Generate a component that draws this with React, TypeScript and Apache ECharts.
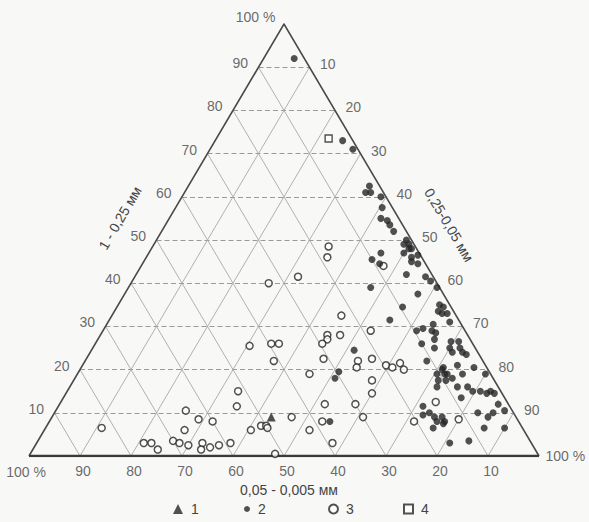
import React, { useEffect, useRef } from "react";
import * as echarts from "echarts";

// Axis titles
const COARSE_TITLE = "1 - 0,25 мм";      // top vertex component (left side scale)
const FINE_TITLE = "0,25-0,05 мм";       // right vertex component (right side scale)
const SILT_TITLE = "0,05 - 0,005 мм";    // left vertex component (bottom scale)

const ticks = [10, 20, 30, 40, 50, 60, 70, 80, 90];
const cornerText = "100 %";
const legendNames = ["1", "2", "3", "4"];

// Each point: [% 1-0,25 mm, % 0,25-0,05 mm]; the 0,05-0,005 mm share is the remainder.
const group1: [number, number][] = [[9, 43]];

const group2: [number, number][] = [
  [92, 6], [73, 25], [71, 28], [62.5, 35.5], [61, 35.5], [61, 36.5], [60, 39], [57.5, 40.5],
  [55, 41.5], [54.5, 43], [53.5, 44], [52, 45.5], [50, 49], [49, 50], [49, 49], [48, 50.5],
  [48, 51], [47, 50], [46, 52], [46.5, 53], [45, 52.5], [44.5, 54], [47, 45.5], [45.5, 44.5],
  [44.5, 46.5], [42, 53], [41.5, 57], [40.5, 58.5], [39, 47.5], [39, 60.5], [37.5, 57.5],
  [34.5, 56], [35, 63], [34.5, 64], [33.5, 63.5], [33, 64.5], [33, 65.5], [31, 67], [31.5, 55],
  [29, 61.5], [29.5, 62.5], [30.5, 64], [29, 64.5], [28.5, 65.5], [27, 66], [25, 67], [26, 64],
  [22, 67], [26.5, 69.5], [26.5, 71], [25, 70], [25, 72], [24, 73], [24, 71], [23.5, 74],
  [21, 73.5], [20.5, 71], [20.5, 77], [19, 80], [19, 70.5], [20, 71], [19, 72], [19, 72.5],
  [17.5, 71.5], [17.5, 73], [18, 74], [19, 75.5], [16, 72], [16, 76], [16, 78], [13.5, 78],
  [15, 79.5], [15, 81], [14.5, 82.5], [15, 83], [14.5, 84], [12, 86], [10.5, 88], [10, 83],
  [9, 85.5], [10, 86], [11.5, 71.5], [9.5, 72.5], [10, 73.5], [9, 75], [8, 76], [9, 76.5],
  [8, 77.5], [6.5, 76], [7.5, 77.5], [6.5, 86], [6.5, 90], [3, 81], [3.5, 84.5], [24.5, 51.5],
  [19.5, 51], [18, 51], [8, 55],
];

const group3: [number, number][] = [
  [48.5, 34.5], [46, 35.5], [41.5, 32], [40, 27], [44, 47.5], [32.5, 45], [29, 52.5], [28, 44.5],
  [28, 47], [27, 45], [26, 44.5], [25.5, 30.5], [26, 34.5], [26, 36], [22, 37], [22.5, 46.5],
  [22, 53.5], [20.5, 54], [22.5, 56], [21, 59.5], [20.5, 61], [21.5, 62], [20, 63.5], [19, 45.5],
  [17.5, 58.5], [14.5, 60], [15, 33.5], [11.5, 35], [12, 52], [12, 58], [9, 61], [8, 32],
  [8.5, 29], [10.5, 25.5], [9, 47], [7, 42], [7, 43], [6.5, 43.5], [6, 40.5], [6, 52], [8, 53.5],
  [3, 58], [3, 38], [3, 32.5], [2, 34.5], [2.5, 36], [1.5, 33], [0.5, 48], [6, 27.5], [3.5, 26.5],
  [3, 28], [2.5, 30], [3, 21], [3, 22.5], [1.5, 24.5], [6.5, 11], [12.5, 73.5], [8, 71.5], [8.5, 80],
];

const group4: [number, number][] = [[73.5, 22]];

// ternary (top, right) -> cartesian data coordinates
const toXY = (top: number, right: number) => [right + top / 2, top];

const FONT = "'Liberation Sans', Arial, sans-serif";
const TEXT_COLOR = "#444";
const INK = "#262626";

export default function App() {
  const ref = useRef<HTMLDivElement>(null);

  useEffect(() => {
    document.body.style.margin = "0";
    const chart = echarts.init(ref.current!, null, { renderer: "svg" });

    const hLines = ticks.map((k) => ({ coords: [toXY(k, 0), toXY(k, 100 - k)] }));
    const rLines = ticks.map((k) => ({ coords: [toXY(0, k), toXY(100 - k, k)] }));
    const lLines = ticks.map((k) => ({ coords: [toXY(0, 100 - k), toXY(100 - k, 0)] }));

    const labelSeries = (data: any[], label: any) => ({
      type: "scatter",
      silent: true,
      symbol: "circle",
      symbolSize: 1,
      itemStyle: { color: "rgba(0,0,0,0)" },
      data,
      z: 6,
      label: {
        show: true,
        formatter: "{b}",
        color: TEXT_COLOR,
        fontSize: 14,
        fontFamily: FONT,
        ...label,
      },
    });

    const legendItem = (name: string, icon: string, left: number, size: number) => ({
      data: [{ name, icon }],
      left,
      top: 502,
      padding: 0,
      itemWidth: size,
      itemHeight: size,
      selectedMode: false,
      textStyle: { color: TEXT_COLOR, fontSize: 14, fontFamily: FONT, padding: [0, 0, 0, 3] },
    });

    const option: any = {
      animation: false,
      backgroundColor: "#f8f8f7",
      grid: { left: 29, right: 50, top: 24, bottom: 66 },
      xAxis: { type: "value", min: 0, max: 100, show: false },
      yAxis: { type: "value", min: 0, max: 100, show: false },
      legend: [
        legendItem(legendNames[0], "triangle", 173, 10),
        legendItem(legendNames[1], "circle", 244, 6),
        legendItem(legendNames[2], "circle", 328, 9),
        legendItem(legendNames[3], "rect", 403, 9),
      ],
      series: [
        {
          type: "lines",
          coordinateSystem: "cartesian2d",
          silent: true,
          data: hLines,
          lineStyle: { color: "#9a9a9a", width: 1, type: [5, 3], opacity: 1 },
          z: 1,
        },
        {
          type: "lines",
          coordinateSystem: "cartesian2d",
          silent: true,
          data: [...rLines, ...lLines],
          lineStyle: { color: "#a8a8a8", width: 0.9, opacity: 1 },
          z: 1,
        },
        {
          type: "lines",
          coordinateSystem: "cartesian2d",
          silent: true,
          polyline: true,
          data: [{ coords: [toXY(0, 0), toXY(100, 0), toXY(0, 100)] }],
          lineStyle: { color: "#4a4a4a", width: 1.6, opacity: 1 },
          z: 2,
        },
        {
          type: "lines",
          coordinateSystem: "cartesian2d",
          silent: true,
          data: [{ coords: [toXY(0, 0), toXY(0, 100)] }],
          lineStyle: { color: "#3a3a3a", width: 2.4, opacity: 1 },
          z: 2,
        },
        labelSeries(
          ticks.map((k) => ({ name: String(k), value: toXY(k, 0) })),
          { position: "left", distance: 10, offset: [0, -4] }
        ),
        labelSeries(
          ticks.map((k) => ({ name: String(k), value: toXY(100 - k, k) })),
          { position: "right", distance: 10, offset: [0, -3] }
        ),
        labelSeries(
          ticks.map((k) => ({ name: String(k), value: toXY(0, 100 - k) })),
          { position: "bottom", distance: 7, offset: [3, 0] }
        ),
        labelSeries(
          [
            { name: cornerText, value: toXY(100, 0), label: { position: "left", distance: 8, offset: [0, -7] } },
            { name: cornerText, value: toXY(0, 100), label: { position: "right", distance: 6, offset: [0, 0] } },
            { name: cornerText, value: toXY(0, 0), label: { position: "bottom", distance: 8, offset: [-3, 0] } },
          ],
          {}
        ),
        {
          name: legendNames[2],
          type: "scatter",
          symbol: "circle",
          symbolSize: 7,
          itemStyle: { color: "#ffffff", borderColor: INK, borderWidth: 1.5 },
          data: group3.map(([a, r]) => toXY(a, r)),
          z: 4,
        },
        {
          name: legendNames[3],
          type: "scatter",
          symbol: "rect",
          symbolSize: 7,
          itemStyle: { color: "#ffffff", borderColor: INK, borderWidth: 1.4 },
          data: group4.map(([a, r]) => toXY(a, r)),
          z: 4,
        },
        {
          name: legendNames[1],
          type: "scatter",
          symbol: "circle",
          symbolSize: 7,
          itemStyle: { color: INK },
          data: group2.map(([a, r]) => toXY(a, r)),
          z: 5,
        },
        {
          name: legendNames[0],
          type: "scatter",
          symbol: "triangle",
          symbolSize: 9,
          itemStyle: { color: INK },
          data: group1.map(([a, r]) => toXY(a, r)),
          z: 5,
        },
      ],
      graphic: [
        {
          type: "text",
          x: 289,
          y: 490,
          style: { text: SILT_TITLE, fill: TEXT_COLOR, font: `14px ${FONT}`, align: "center", verticalAlign: "middle" },
        },
        {
          type: "text",
          x: 120,
          y: 218,
          rotation: (59.5 * Math.PI) / 180,
          style: { text: COARSE_TITLE, fill: TEXT_COLOR, font: `14px ${FONT}`, align: "center", verticalAlign: "middle" },
        },
        {
          type: "text",
          x: 449,
          y: 225,
          rotation: (-59.5 * Math.PI) / 180,
          style: { text: FINE_TITLE, fill: TEXT_COLOR, font: `14px ${FONT}`, align: "center", verticalAlign: "middle" },
        },
      ],
    };

    chart.setOption(option);
    return () => chart.dispose();
  }, []);

  return (
    <div
      ref={ref}
      style={{ position: "absolute", left: 0, top: 0, width: 589, height: 522 }}
    />
  );
}
